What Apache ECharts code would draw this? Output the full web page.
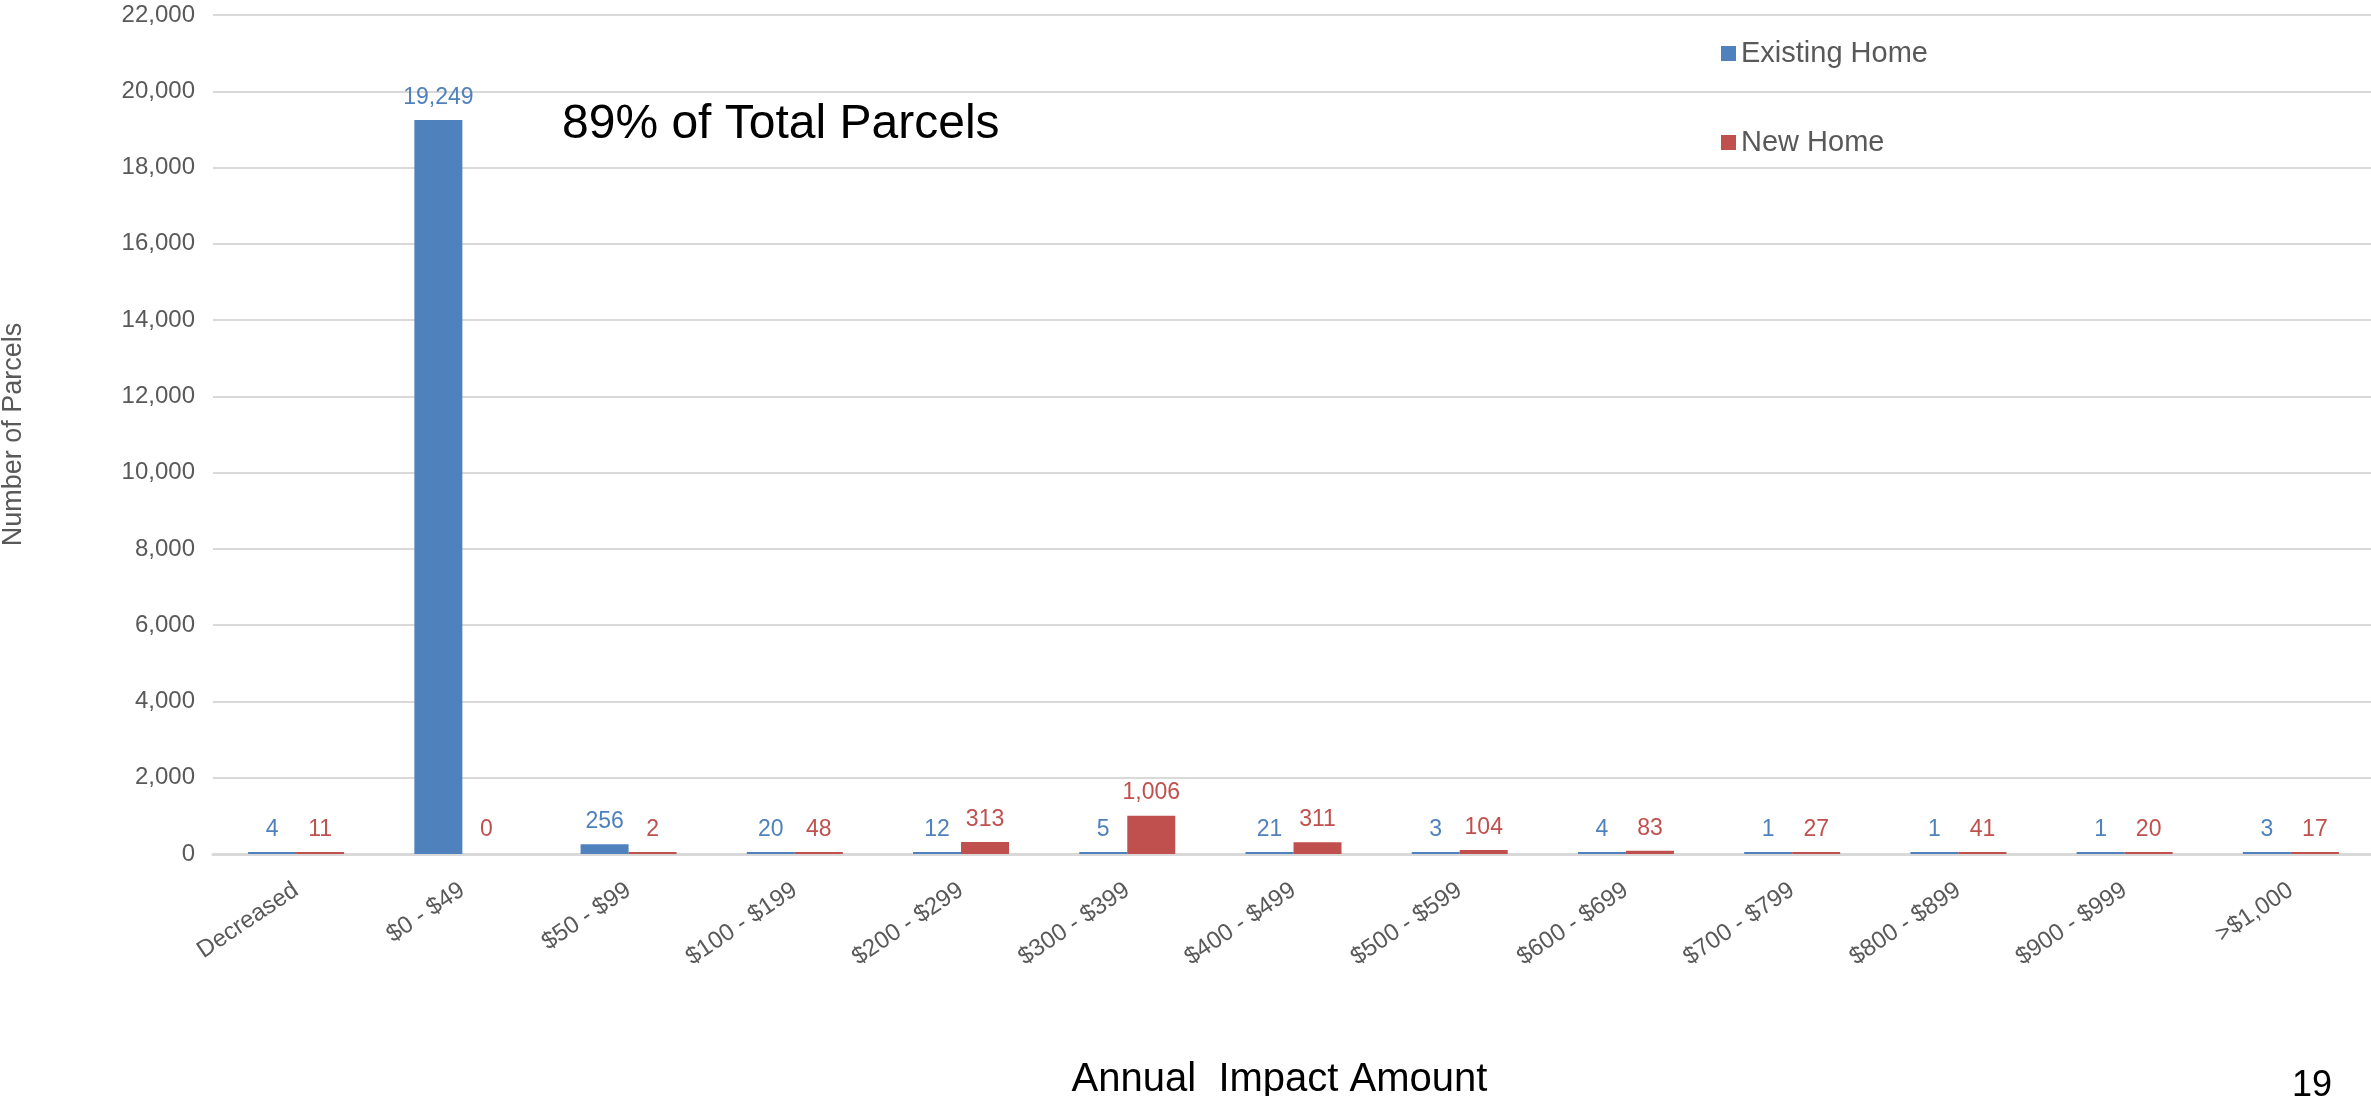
<!DOCTYPE html>
<html>
<head>
<meta charset="utf-8">
<title>Annual Impact Amount</title>
<script src="https://cdn.jsdelivr.net/npm/echarts@6/dist/echarts.min.js"></script>
<style>
  html, body { margin: 0; padding: 0; background: #fff; }
  #chart { width: 2371px; height: 1096px; }
</style>
</head>
<body>
<div id="chart"></div>
<script>
// data
const categories = ['Decreased', '$0 - $49', '$50 - $99', '$100 - $199', '$200 - $299', '$300 - $399',
  '$400 - $499', '$500 - $599', '$600 - $699', '$700 - $799', '$800 - $899', '$900 - $999', '>$1,000'];
const existingHome = [4, 19249, 256, 20, 12, 5, 21, 3, 4, 1, 1, 1, 3];
const newHome = [11, 0, 2, 48, 313, 1006, 311, 104, 83, 27, 41, 20, 17];
const yTicks = { min: 0, max: 22000, interval: 2000 };

const FONT = '"Liberation Sans", Arial, sans-serif';
const BLUE = '#4F81BD';
const RED = '#C0504D';
const GREY = '#595959';

const fmt = v => Number(v).toLocaleString('en-US');

// zero bars stay hidden (barMinHeight would otherwise draw them)
function barData(arr) {
  return arr.map(v => v === 0 ? { value: v, itemStyle: { color: 'transparent' } } : v);
}

function makeSeries(name, arr, color) {
  return {
    type: 'bar',
    name: name,
    data: barData(arr),
    barWidth: 48,
    barGap: '0%',
    barMinHeight: 2,
    itemStyle: { color: color },
    label: {
      show: true,
      position: 'top',
      distance: 11,
      color: color,
      fontSize: 23,
      fontFamily: FONT,
      formatter: p => fmt(p.value)
    }
  };
}

const chart = echarts.init(document.getElementById('chart'));
chart.setOption({
  animation: false,
  backgroundColor: '#fff',
  textStyle: { fontFamily: FONT },
  grid: {
    left: 213,
    right: -3,
    top: 15,
    bottom: 242,
    containLabel: false,
    outerBoundsMode: 'none'
  },
  legend: {
    orient: 'vertical',
    left: 1716,
    top: 34,
    itemWidth: 15,
    itemHeight: 15,
    itemGap: 60,
    icon: 'rect',
    textStyle: { fontSize: 29, color: GREY, fontFamily: FONT },
    data: ['Existing Home', 'New Home']
  },
  xAxis: {
    type: 'category',
    data: categories,
    name: 'Annual  Impact Amount',
    nameLocation: 'middle',
    nameGap: 206,
    nameTextStyle: { fontSize: 40, color: '#000', fontFamily: FONT, padding: [0, 28, 0, 0] },
    axisLine: { lineStyle: { color: '#D9D9D9', width: 3 } },
    axisTick: { show: false },
    axisLabel: {
      interval: 0,
      rotate: 34,
      margin: 34,
      fontSize: 24,
      color: GREY,
      fontFamily: FONT
    }
  },
  yAxis: {
    type: 'value',
    min: yTicks.min,
    max: yTicks.max,
    interval: yTicks.interval,
    name: 'Number of Parcels',
    nameLocation: 'middle',
    nameGap: 186,
    nameTextStyle: { fontSize: 27, color: GREY, fontFamily: FONT },
    axisLine: { show: false },
    axisTick: { show: false },
    splitLine: { lineStyle: { color: '#D9D9D9', width: 2 } },
    axisLabel: {
      margin: 18,
      fontSize: 24,
      color: GREY,
      fontFamily: FONT,
      formatter: v => fmt(v)
    }
  },
  graphic: [
    {
      type: 'text',
      left: 562,
      top: 101,
      style: { text: '89% of Total Parcels', fontSize: 48, fill: '#000', fontFamily: FONT }
    },
    {
      type: 'text',
      left: 2292,
      top: 1068,
      style: { text: '19', fontSize: 36, fill: '#000', fontFamily: FONT }
    }
  ],
  series: [
    makeSeries('Existing Home', existingHome, BLUE),
    makeSeries('New Home', newHome, RED)
  ]
});
</script>
</body>
</html>
